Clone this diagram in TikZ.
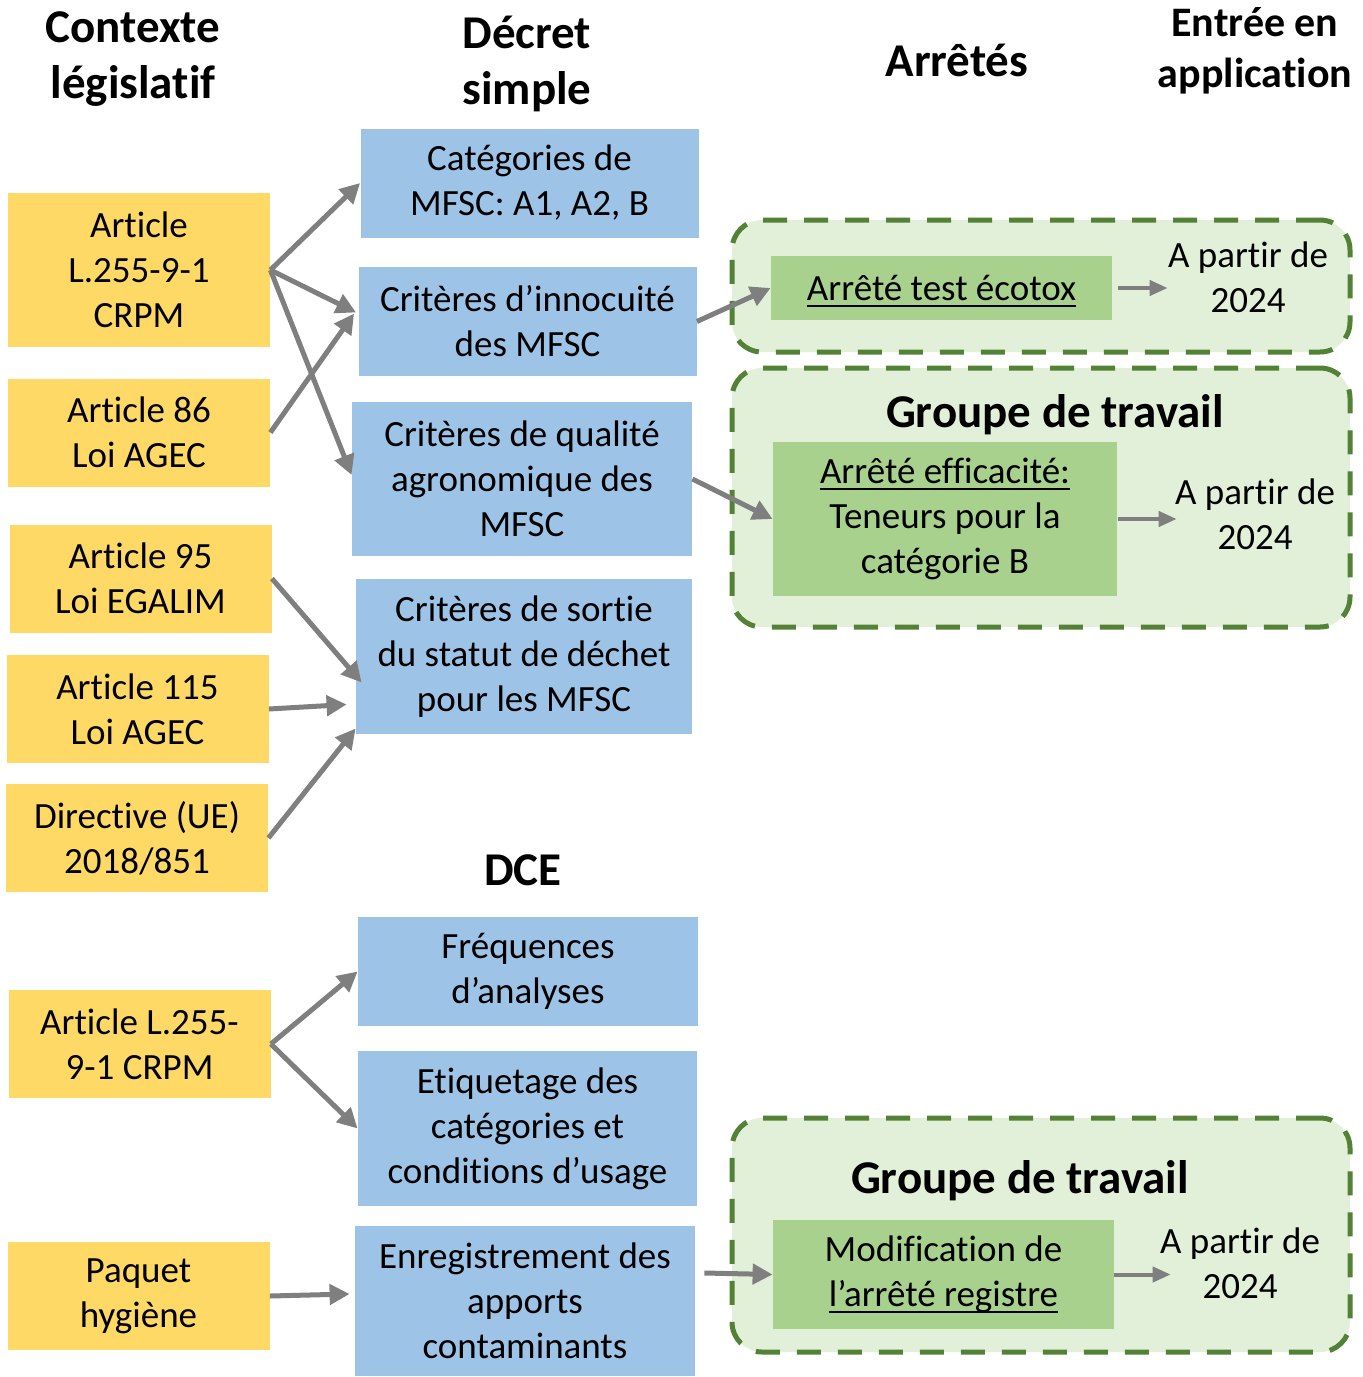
\documentclass[tikz,border=0pt]{standalone}
\usepackage{fontspec}
\setmainfont{Carlito}[Ligatures=NoCommon]
\usetikzlibrary{arrows.meta}
\definecolor{legis}{HTML}{FFD966}
\definecolor{decret}{HTML}{9DC3E6}
\definecolor{arrete}{HTML}{A9D18E}
\definecolor{groupfill}{HTML}{E2F0D9}
\definecolor{groupline}{HTML}{538135}
\definecolor{flow}{HTML}{7F7F7F}
\newcommand{\bodyfont}{\fontsize{18.5}{22.5}\selectfont}
\newcommand{\headfont}{\fontsize{23.5}{28}\selectfont\bfseries}
\newcommand{\ulined}[1]{\leavevmode\setbox0\hbox{#1}%
  \rlap{\smash{\raisebox{-3.2pt}{\rule{\wd0}{1.1pt}}}}\box0}
\begin{document}
\begin{tikzpicture}[x=0.5pt,y=-0.5pt,
  lawbox/.style={fill=legis,minimum width=131pt,minimum height=54pt,
    inner sep=0pt,align=center,font=\bodyfont},
  decbox/.style={fill=decret,minimum width=169pt,minimum height=54.5pt,
    inner sep=0pt,align=center,font=\bodyfont},
  arrbox/.style={fill=arrete,minimum width=171pt,minimum height=54.5pt,
    inner sep=0pt,align=center,font=\bodyfont},
  groupbox/.style={fill=groupfill,draw=groupline,line width=2.5pt,
    rounded corners=15pt,dash pattern=on 12pt off 8.5pt,
    minimum width=309pt,inner sep=0pt},
  head/.style={align=center,font=\headfont},
  date/.style={align=center,inner sep=0pt,font=\bodyfont},
  link/.style={draw=flow,line width=2.5pt,-{Triangle[length=10pt,width=10pt]}},
  shortlink/.style={draw=flow,line width=2pt,-{Triangle[length=9pt,width=7.5pt]}}]
  \useasboundingbox (0,0) rectangle (1363,1377);

  % headers
  \path (133,59) node[head] (hctx) {Contexte\\législatif};
  \path (527,64) node[head] (hdec) {Décret\\simple};
  \path (957,60) node[head] (harr) {Arrêtés};
  \path (1255,51) node[head,font=\fontsize{21}{25.5}\selectfont\bfseries] (happ) {Entrée en\\application};
  \path (523,870) node[head] (hdce) {DCE};

  % legislative context
  \path (139,270) node[lawbox,minimum height=77pt] (l1) {Article\\L.255-9-1\\CRPM};
  \path (139,432.5) node[lawbox] (l2) {Article 86\\Loi AGEC};
  \path (140.5,578.5) node[lawbox] (l3) {Article 95\\Loi EGALIM};
  \path (137.5,709) node[lawbox] (l4) {Article 115\\Loi AGEC};
  \path (137,838) node[lawbox] (l5) {Directive (UE)\\2018/851};
  \path (139.5,1044) node[lawbox] (l6) {Article L.255-\\9-1 CRPM};
  \path (138.5,1296) node[lawbox] (l7) {Paquet\\hygiène};

  % decret simple / DCE
  \path (529.5,183) node[decbox] (d1) {Catégories de\\MFSC: A1, A2, B};
  \path (527.5,321.5) node[decbox] (d2) {Critères d’innocuité\\des MFSC};
  \path (522,479) node[decbox,minimum width=170pt,minimum height=77pt] (d3)
    {Critères de qualité\\agronomique des\\MFSC};
  \path (524,656.5) node[decbox,minimum width=168pt,minimum height=77.5pt] (d4)
    {Critères de sortie\\du statut de déchet\\pour les MFSC};
  \path (528,971.5) node[decbox,minimum width=170pt] (d5) {Fréquences\\d’analyses};
  \path (527.5,1128.5) node[decbox,minimum width=169.5pt,minimum height=77.5pt] (d6)
    {Etiquetage des\\catégories et\\conditions d’usage};
  \path (525,1301) node[decbox,minimum width=170pt,minimum height=75pt] (d7)
    {Enregistrement des\\apports\\contaminants};

  % working groups
  \path (1041,286) node[groupbox,minimum height=66pt] (g1) {};
  \path (1041,497.5) node[groupbox,minimum height=129.5pt] (g2) {};
  \path (1041,1235) node[groupbox,minimum height=117pt] (g3) {};
  \path (1055,415) node[head] (gt2) {Groupe de travail};
  \path (1020,1181) node[head] (gt3) {Groupe de travail};

  % arretes
  \path (941.5,288) node[arrbox,minimum width=170.5pt,minimum height=32pt] (a1)
    {\ulined{Arrêté test écotox}};
  \path (945,519) node[arrbox,minimum width=172pt,minimum height=77pt] (a2)
    {\ulined{Arrêté efficacité:}\\Teneurs pour la\\catégorie B};
  \path (943.5,1274.5) node[arrbox,minimum width=170.5pt] (a3)
    {Modification de\\\ulined{l’arrêté registre}};

  % dates
  \path (1248,277) node[date] (t1) {A partir de\\2024};
  \path (1255,514.5) node[date] (t2) {A partir de\\2024};
  \path (1240,1263.5) node[date] (t3) {A partir de\\2024};

  % links
  \draw[link] (l1.east) -- (d1.west);
  \draw[link] (l1.east) -- ([xshift=-1pt,yshift=4.5pt]d2.west);
  \draw[link] (l1.east) -- ([yshift=2pt]d3.west);
  \draw[link] (l2.east) -- ([xshift=-2pt,yshift=4pt]d2.west);
  \draw[link] (l3.east) -- ([xshift=3pt,yshift=-13pt]d4.west);
  \draw[link] (l4.east) -- ([xshift=-4.5pt,yshift=-24pt]d4.west);
  \draw[link] (l5.east) -- ([yshift=-36pt]d4.west);
  \draw[link] (l6.east) -- (d5.west);
  \draw[link] (l6.east) -- (d6.west);
  \draw[link] (l7.east) -- ([xshift=-2.5pt,yshift=3.5pt]d7.west);
  \draw[link] (d2.east) -- (a1.west);
  \draw[link] (d3.east) -- (a2.west);
  \draw[link] ([xshift=4.5pt,yshift=14pt]d7.east) -- (a3.west);
  \draw[shortlink] ([xshift=3pt]a1.east) -- (t1.west |- a1.east);
  \draw[shortlink] ([xshift=0.5pt]a2.east) -- ([xshift=1pt]t2.west |- a2.east);
  \draw[shortlink] (a3.east) -- ([xshift=5.5pt]t3.west |- a3.east);
\end{tikzpicture}
\end{document}
